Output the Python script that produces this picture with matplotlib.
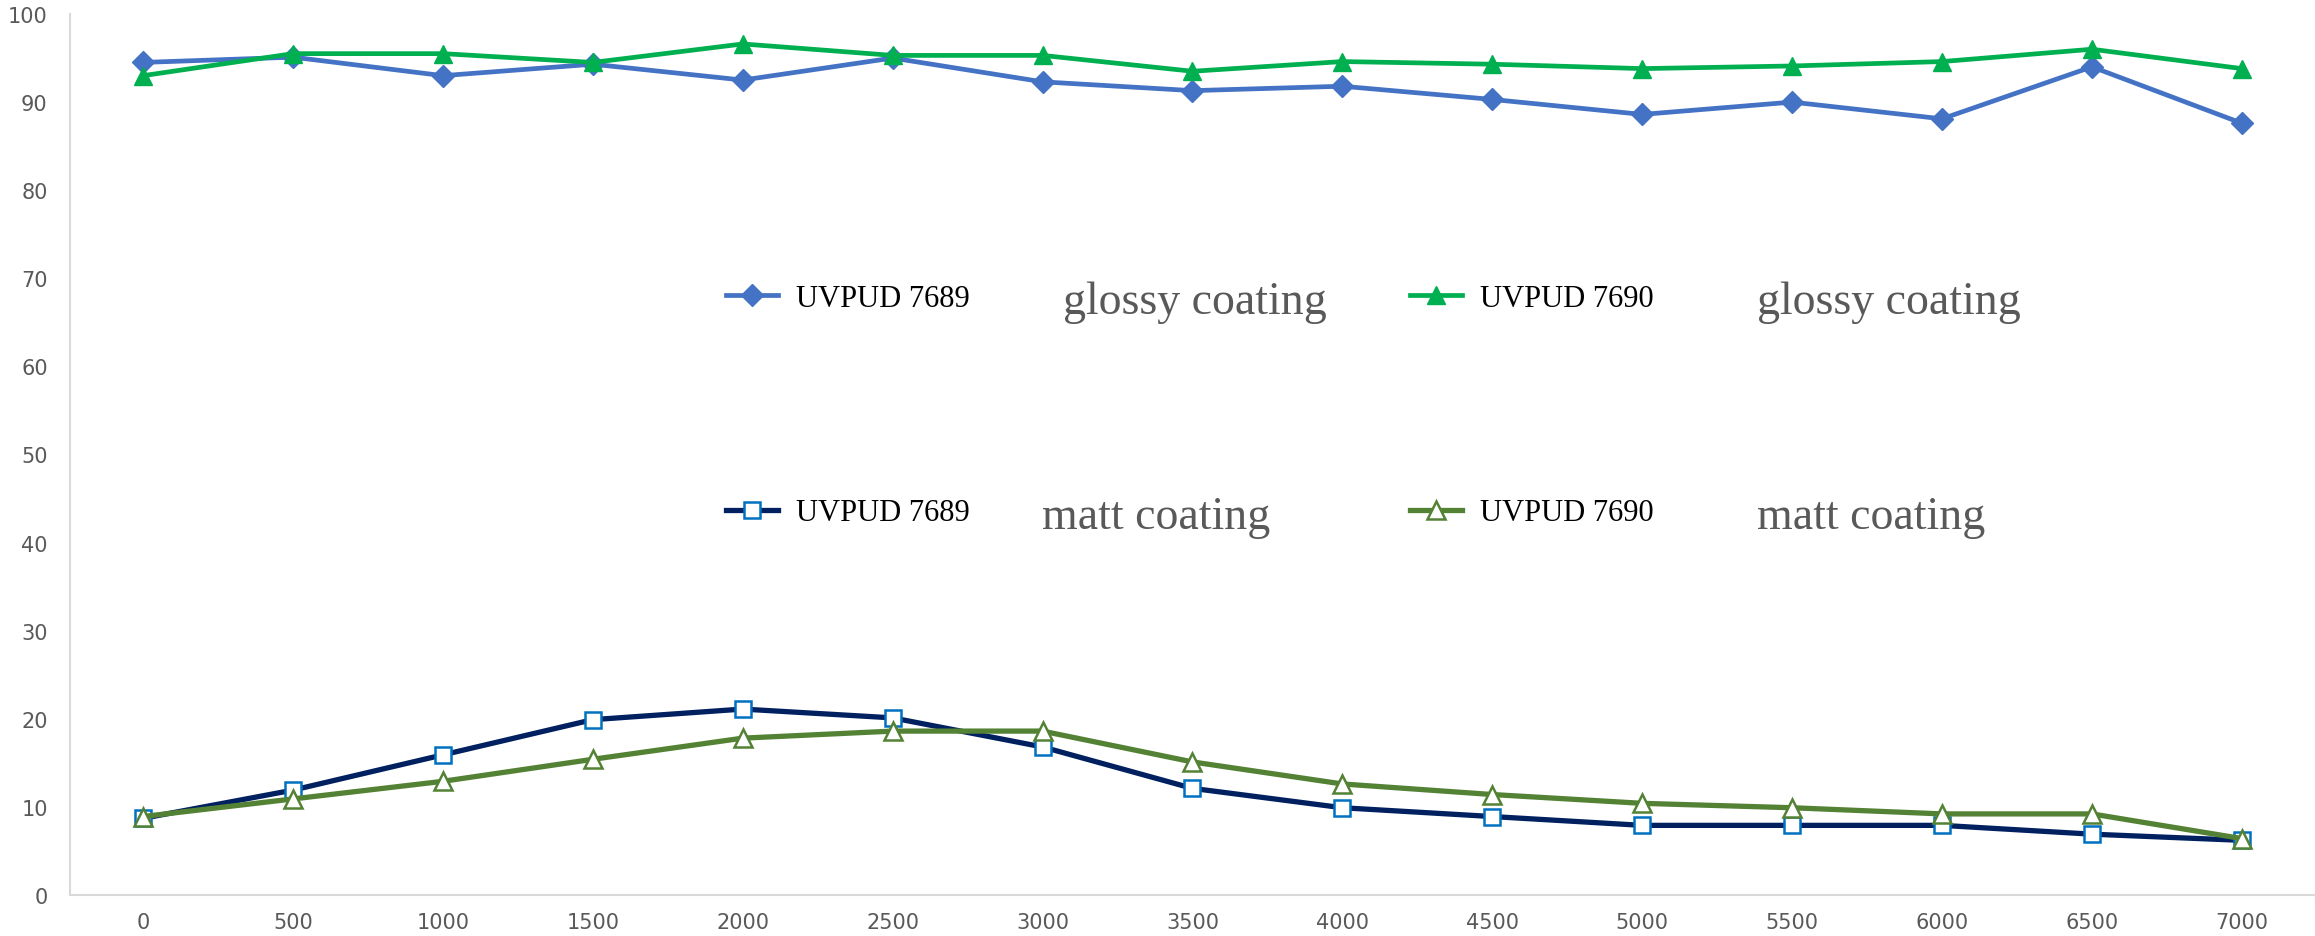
import matplotlib
matplotlib.use("Agg")
import matplotlib.pyplot as plt

# exposure (x) and measured values for each coating
hours = [0, 500, 1000, 1500, 2000, 2500, 3000, 3500, 4000, 4500, 5000, 5500, 6000, 6500, 7000]
glossy_7689 = [94.5, 95.1, 93.0, 94.3, 92.5, 95.0, 92.3, 91.3, 91.8, 90.3, 88.6, 90.0, 88.1, 94.0, 87.6]
glossy_7690 = [93.0, 95.5, 95.5, 94.5, 96.6, 95.3, 95.3, 93.5, 94.6, 94.3, 93.8, 94.1, 94.6, 96.0, 93.8]
matt_7689 = [8.7, 11.9, 15.9, 19.9, 21.1, 20.1, 16.8, 12.1, 9.9, 8.9, 7.9, 7.9, 7.9, 6.9, 6.2]
matt_7690 = [8.9, 10.9, 12.9, 15.4, 17.8, 18.6, 18.6, 15.1, 12.6, 11.4, 10.4, 9.9, 9.2, 9.2, 6.4]
yticks = list(range(0, 101, 10))

serif = ['Liberation Serif', 'DejaVu Serif']

fig = plt.figure(figsize=(23.15, 9.37), dpi=100)
ax = fig.add_axes([0.0302, 0.0438, 0.9698, 0.9402])

l1, = ax.plot(hours, glossy_7689, color='#4472C4', lw=3.4, marker='D', ms=11,
              label='UVPUD 7689')
l2, = ax.plot(hours, glossy_7690, color='#00B050', lw=3.4, marker='^', ms=13,
              label='UVPUD 7690')
l3, = ax.plot(hours, matt_7689, color='#002060', lw=3.8, marker='s', ms=12,
              mfc='white', mec='#0070C0', mew=1.8, label='UVPUD 7689')
l4, = ax.plot(hours, matt_7690, color='#548235', lw=3.8, marker='^', ms=13,
              mfc='white', mec='#548235', mew=1.8, label='UVPUD 7690')

ax.set_xlim(-244, 7244)
ax.set_ylim(0, 100)
ax.set_xticks(hours)
ax.set_yticks(yticks)

for s in ['top', 'right']:
    ax.spines[s].set_visible(False)
for s in ['left', 'bottom']:
    ax.spines[s].set_color('#D9D9D9')
    ax.spines[s].set_linewidth(1.5)

ax.tick_params(length=0, colors='#595959', labelsize=15)
ax.tick_params(axis='y', pad=16)
ax.tick_params(axis='x', pad=12)

# two legend rows, one per coating type
leg_kw = dict(ncol=2, frameon=False, loc='center left', borderpad=0, borderaxespad=0,
              handlelength=1.7, handletextpad=0.6, columnspacing=14.4,
              prop={'family': serif, 'size': 22})
leg1 = ax.legend(handles=[l1, l2], bbox_to_anchor=(0.2922, 0.677), **leg_kw)
ax.add_artist(leg1)
ax.legend(handles=[l3, l4], bbox_to_anchor=(0.2922, 0.4336), **leg_kw)

note = dict(transform=ax.transAxes, color='#595959', fontsize=33,
            family=serif, va='baseline', ha='left')
ax.text(0.4423, 0.661, 'glossy coating', **note)
ax.text(0.7514, 0.661, 'glossy coating', **note)
ax.text(0.433, 0.417, 'matt coating', **note)
ax.text(0.7514, 0.417, 'matt coating', **note)

fig.savefig('out.png', dpi=100)
